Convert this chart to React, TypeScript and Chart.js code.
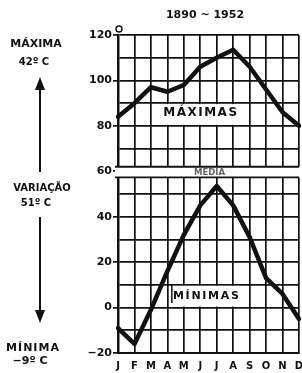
import React, { useEffect, useRef } from "react";
import { Chart, registerables } from "chart.js";

Chart.register(...registerables);

const months = ["J", "F", "M", "A", "M", "J", "J", "A", "S", "O", "N", "D"];
const maxima = [84, 90, 97, 95, 98, 106, 110, 113.5, 106, 96, 86, 80];
const minima = [-9, -16, -1, 16, 32, 45, 53.5, 45, 31, 13, 6, -5];
const yMin = -20;
const yMax = 120;
const yStep = 10;
const yLabelStep = 20;
const title = "1890 ~ 1952";
const seriesLabels = ["MÁXIMAS", "MÍNIMAS"];
const mediaLabel = "MEDIA";
const sideTexts = ["MÁXIMA", "42º C", "VARIAÇÃO", "51º C", "MÍNIMA", "−9º C"];

const INK = "#111";
const FONT = "'DejaVu Sans', sans-serif";

const decorPlugin = {
  id: "decor",
  beforeDatasetsDraw(chart: any) {
    const { ctx, chartArea, scales } = chart;
    const x = scales.x;
    const y = scales.y;
    ctx.save();
    // MEDIA band
    const bTop = y.getPixelForValue(62);
    const bBot = y.getPixelForValue(57.3);
    ctx.fillStyle = "#fff";
    ctx.fillRect(chartArea.left - 3, bTop, chartArea.right - chartArea.left + 4, bBot - bTop);
    ctx.strokeStyle = INK;
    ctx.lineWidth = 1.8;
    ctx.beginPath();
    ctx.moveTo(chartArea.left - 3, bTop);
    ctx.lineTo(chartArea.right, bTop);
    ctx.moveTo(chartArea.left - 3, bBot);
    ctx.lineTo(chartArea.right, bBot);
    ctx.stroke();
    ctx.fillStyle = "#666";
    ctx.font = `bold 8.5px ${FONT}`;
    ctx.textAlign = "center";
    ctx.textBaseline = "middle";
    ctx.fillText(mediaLabel, (chartArea.left + chartArea.right) / 2 + 1, (bTop + bBot) / 2 + 0.5);

    // MÁXIMAS box
    const mx1 = x.getPixelForValue(2.75);
    const mx2 = x.getPixelForValue(7.2);
    const my1 = y.getPixelForValue(90) + 1;
    const my2 = y.getPixelForValue(80) - 1;
    ctx.fillStyle = "#fff";
    ctx.fillRect(mx1, my1, mx2 - mx1, my2 - my1);
    ctx.fillStyle = INK;
    ctx.font = `bold 12px ${FONT}`;
    (ctx as any).letterSpacing = "1.5px";
    ctx.fillText(seriesLabels[0], (mx1 + mx2) / 2 + 1, y.getPixelForValue(85.8));

    // MÍNIMAS box
    const nx1 = x.getPixelForValue(3.27);
    const nx2 = x.getPixelForValue(7.4);
    const ny1 = y.getPixelForValue(10) + 1;
    const ny2 = y.getPixelForValue(0) - 1;
    ctx.fillStyle = "#fff";
    ctx.fillRect(nx1, ny1, nx2 - nx1, ny2 - ny1);
    ctx.strokeStyle = INK;
    ctx.lineWidth = 1.5;
    ctx.beginPath();
    ctx.moveTo(nx1, ny1 - 1);
    ctx.lineTo(nx1, y.getPixelForValue(2));
    ctx.stroke();
    ctx.fillStyle = INK;
    ctx.font = `bold 11px ${FONT}`;
    (ctx as any).letterSpacing = "1.7px";
    ctx.fillText(seriesLabels[1], (nx1 + nx2) / 2 + 1, y.getPixelForValue(4.9));
    ctx.restore();
  },
  afterDraw(chart: any) {
    const { ctx, scales } = chart;
    const y = scales.y;
    ctx.save();
    ctx.fillStyle = INK;
    ctx.strokeStyle = INK;
    ctx.textAlign = "center";
    ctx.textBaseline = "middle";
    // title
    ctx.font = `bold 11px ${FONT}`;
    ctx.fillText(title, 205, 15);
    // degree ring on 120
    ctx.lineWidth = 1.4;
    ctx.beginPath();
    ctx.arc(119, y.getPixelForValue(yMax) - 6, 3, 0, Math.PI * 2);
    ctx.stroke();
    // side annotations
    ctx.font = `bold 11px ${FONT}`;
    ctx.fillText(sideTexts[0], 36, 44);
    ctx.font = `bold 10px ${FONT}`;
    ctx.fillText(sideTexts[1], 34, 62);
    ctx.fillText(sideTexts[2], 42, 188);
    ctx.fillText(sideTexts[3], 36, 203);
    ctx.font = `bold 11px ${FONT}`;
    (ctx as any).letterSpacing = "1px";
    ctx.fillText(sideTexts[4], 33, 348);
    (ctx as any).letterSpacing = "0px";
    ctx.fillText(sideTexts[5], 30, 361);
    // arrows
    ctx.lineWidth = 2;
    ctx.beginPath();
    ctx.moveTo(40, 88);
    ctx.lineTo(40, 172);
    ctx.moveTo(40, 217);
    ctx.lineTo(40, 313);
    ctx.stroke();
    ctx.beginPath();
    ctx.moveTo(40, 77);
    ctx.lineTo(35, 90);
    ctx.lineTo(45, 90);
    ctx.closePath();
    ctx.fill();
    ctx.beginPath();
    ctx.moveTo(40, 323);
    ctx.lineTo(35, 310);
    ctx.lineTo(45, 310);
    ctx.closePath();
    ctx.fill();
    ctx.restore();
  },
};

export default function App() {
  const ref = useRef<HTMLCanvasElement>(null);
  useEffect(() => {
    if (!ref.current) return;
    const chart = new Chart(ref.current, {
      type: "line",
      data: {
        labels: months,
        datasets: [
          {
            label: seriesLabels[0],
            data: maxima,
            borderColor: INK,
            borderWidth: 4.5,
            pointRadius: 0,
            tension: 0,
            borderJoinStyle: "round",
            borderCapStyle: "round",
          },
          {
            label: seriesLabels[1],
            data: minima,
            borderColor: INK,
            borderWidth: 4.5,
            pointRadius: 0,
            tension: 0,
            borderJoinStyle: "round",
            borderCapStyle: "round",
          },
        ],
      },
      options: {
        responsive: false,
        animation: false,
        layout: { padding: { top: 35, right: 3, left: 0, bottom: 0 } },
        plugins: { legend: { display: false }, tooltip: { enabled: false } },
        scales: {
          x: {
            offset: false,
            grid: { color: INK, lineWidth: 1.7, drawTicks: false },
            border: { color: INK, width: 2 },
            ticks: {
              color: INK,
              padding: 7,
              maxRotation: 0,
              autoSkip: false,
              font: { family: FONT, weight: "bold", size: 10 },
            },
            afterFit(s: any) {
              s.height = 20;
              s.paddingLeft = 0;
              s.paddingRight = 0;
            },
          },
          y: {
            min: yMin,
            max: yMax,
            grid: {
              color: INK,
              lineWidth: 1.7,
              tickLength: 5,
              tickColor: (c: any) => (c.tick && c.tick.value % yLabelStep === 0 ? INK : "rgba(0,0,0,0)"),
            },
            border: { color: INK, width: 2.5 },
            ticks: {
              stepSize: yStep,
              autoSkip: false,
              color: INK,
              padding: 1,
              font: { family: FONT, weight: "bold", size: 11 },
              callback: (v: any) =>
                v % yLabelStep === 0 ? (v < 0 ? "−" + Math.abs(v) : String(v)) : "",
            },
            afterFit(s: any) {
              s.width = 118;
              s.paddingTop = 0;
              s.paddingBottom = 0;
            },
          },
        },
      },
      plugins: [decorPlugin],
    });
    return () => chart.destroy();
  }, []);
  return (
    <div style={{ position: "absolute", left: 0, top: 0, width: 302, height: 373, background: "#fff" }}>
      <canvas ref={ref} width={302} height={373} style={{ width: 302, height: 373 }} />
    </div>
  );
}
